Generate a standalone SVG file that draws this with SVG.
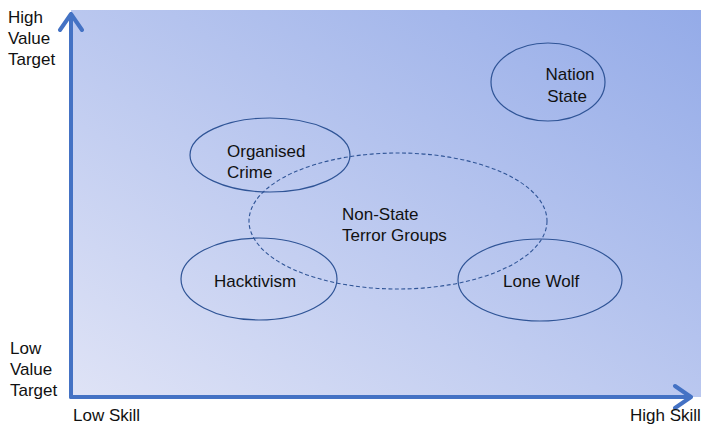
<svg xmlns="http://www.w3.org/2000/svg" width="701" height="427" viewBox="0 0 701 427">
<defs>
<linearGradient id="bg" x1="0" y1="1" x2="1" y2="0">
<stop offset="0" stop-color="#dfe3f6"/>
<stop offset="1" stop-color="#94abe8"/>
</linearGradient>
<style>
text{font-family:"Liberation Sans",Arial,sans-serif;font-size:17px;fill:#111}
.e{fill:none;stroke:#2f5496;stroke-width:1.2}
.d{fill:none;stroke:#2f5496;stroke-width:1.1;stroke-dasharray:4 2.5}
.ax{fill:none;stroke:#4472c4;stroke-width:4;stroke-linecap:round;stroke-linejoin:round}
</style>
</defs>
<rect x="71" y="10" width="630" height="387" fill="url(#bg)"/>
<g id="connectors">
<path class="ax" d="M71 397 V14 M60 30 L71 14 L82 30"/>
<path class="ax" d="M71 397 H690 M675 386 L691 397 L675 408"/>
</g>
<g id="axis-labels">
<text x="8" y="23">High</text>
<text x="8" y="44">Value</text>
<text x="8" y="65">Target</text>
<text x="10" y="354">Low</text>
<text x="10" y="375">Value</text>
<text x="10" y="396">Target</text>
<text x="73" y="421">Low Skill</text>
<text x="630" y="421">High Skill</text>
</g>
<g id="nation-state">
<ellipse class="e" cx="548" cy="82" rx="57" ry="39"/>
<text x="570" y="80" text-anchor="middle">Nation</text>
<text x="567" y="102" text-anchor="middle">State</text>
</g>
<g id="organised-crime">
<ellipse class="e" cx="270" cy="155" rx="80" ry="37"/>
<text x="227" y="157">Organised</text>
<text x="227" y="178">Crime</text>
</g>
<g id="non-state">
<ellipse class="d" cx="398" cy="221" rx="149" ry="68"/>
<text x="342" y="220">Non-State</text>
<text x="342" y="241">Terror  Groups</text>
</g>
<g id="hacktivism">
<ellipse class="e" cx="259" cy="279" rx="78" ry="41"/>
<text x="214" y="287">Hacktivism</text>
</g>
<g id="lone-wolf">
<ellipse class="e" cx="540" cy="280" rx="82" ry="41"/>
<text x="503" y="287">Lone Wolf</text>
</g>
</svg>
